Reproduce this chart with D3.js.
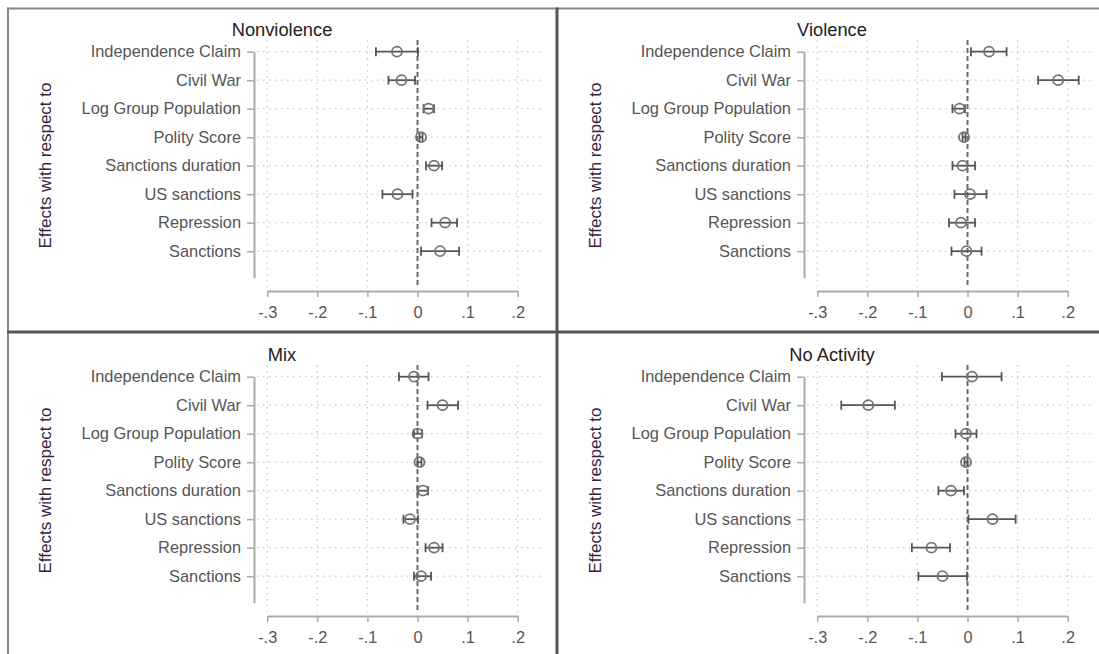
<!DOCTYPE html>
<html>
<head>
<meta charset="utf-8">
<script src="https://cdn.jsdelivr.net/npm/d3@7"></script>
<style>
  html, body { margin: 0; padding: 0; background: #fff; }
  svg { display: block; font-family: "Liberation Sans", Arial, sans-serif; }
</style>
</head>
<body>
<svg id="chart" width="1099" height="654"></svg>
<script>
// Covariates, listed top to bottom
const categories = ["Independence Claim", "Civil War", "Log Group Population", "Polity Score",
                    "Sanctions duration", "US sanctions", "Repression", "Sanctions"];

const panelTitles = ["Nonviolence", "Violence", "Mix", "No Activity"];

// Point estimates and confidence bounds per outcome
const nonviolenceEst = [-0.041, -0.032, 0.022, 0.007, 0.033, -0.040, 0.055, 0.045];
const nonviolenceLo  = [-0.083, -0.058, 0.012, 0.004, 0.017, -0.070, 0.028, 0.007];
const nonviolenceHi  = [ 0.001, -0.005, 0.033, 0.010, 0.049, -0.010, 0.079, 0.083];

const violenceEst = [0.043, 0.181, -0.016, -0.007, -0.010, 0.005, -0.013, -0.002];
const violenceLo  = [0.007, 0.141, -0.030, -0.010, -0.030, -0.026, -0.037, -0.032];
const violenceHi  = [0.078, 0.222, -0.005, -0.004, 0.015, 0.038, 0.015, 0.028];

const mixEst = [-0.007, 0.050, 0.000, 0.004, 0.011, -0.015, 0.033, 0.007];
const mixLo  = [-0.037, 0.020, -0.007, 0.000, 0.000, -0.028, 0.016, -0.007];
const mixHi  = [ 0.022, 0.081, 0.009, 0.008, 0.021, 0.001, 0.050, 0.027];

const noActivityEst = [0.009, -0.198, -0.003, -0.003, -0.033, 0.050, -0.072, -0.050];
const noActivityLo  = [-0.051, -0.252, -0.024, -0.006, -0.058, 0.002, -0.111, -0.098];
const noActivityHi  = [0.068, -0.145, 0.018, 0.000, -0.007, 0.096, -0.035, -0.001];

const xTickValues = [-0.3, -0.2, -0.1, 0, 0.1, 0.2];
const xTickLabels = ["-.3", "-.2", "-.1", "0", ".1", ".2"];

const yTitle = "Effects with respect to";

const panels = [
  { title: panelTitles[0], est: nonviolenceEst, lo: nonviolenceLo, hi: nonviolenceHi, dx: 0,   dy: 0 },
  { title: panelTitles[1], est: violenceEst,    lo: violenceLo,    hi: violenceHi,    dx: 550, dy: 0 },
  { title: panelTitles[2], est: mixEst,         lo: mixLo,         hi: mixHi,         dx: 0,   dy: 325 },
  { title: panelTitles[3], est: noActivityEst,  lo: noActivityLo,  hi: noActivityHi,  dx: 550, dy: 325 }
];

const svg = d3.select("#chart");

const x = d3.scaleLinear().domain([-0.3, 0.2]).range([267.2, 517.7]);
const y = d3.scaleLinear().domain([1, 8.93]).range([51.7, 277.7]);
const rows = d3.range(1, categories.length + 1);

const gridColor = "#c9c9c9";
const axisColor = "#ababab";
const labelColor = "#555";

panels.forEach(p => {
  const g = svg.append("g").attr("transform", `translate(${p.dx},${p.dy})`);

  // vertical dotted grid at the x ticks (0 is drawn as a dashed reference line)
  g.selectAll("line.vgrid")
    .data(xTickValues.filter(v => v !== 0))
    .join("line")
    .attr("x1", d => x(d)).attr("x2", d => x(d))
    .attr("y1", 40).attr("y2", 287)
    .attr("stroke", gridColor).attr("stroke-width", 1.3)
    .attr("stroke-dasharray", "1.5,4.5");

  // horizontal dotted grid at each covariate
  g.selectAll("line.hgrid")
    .data(rows)
    .join("line")
    .attr("x1", 257).attr("x2", 541)
    .attr("y1", d => y(d)).attr("y2", d => y(d))
    .attr("stroke", gridColor).attr("stroke-width", 1.3)
    .attr("stroke-dasharray", "1.5,4.5");

  // zero reference line
  g.append("line")
    .attr("x1", x(0)).attr("x2", x(0))
    .attr("y1", 40).attr("y2", 287)
    .attr("stroke", "#6a6a6a").attr("stroke-width", 2)
    .attr("stroke-dasharray", "5,3");

  // y axis with covariate labels
  const ya = g.append("g")
    .attr("transform", "translate(254,0)")
    .call(d3.axisLeft(y).tickValues(rows)
      .tickFormat(d => categories[d - 1])
      .tickSize(7).tickSizeOuter(0).tickPadding(6));
  ya.select(".domain").attr("stroke", axisColor).attr("stroke-width", 2);
  ya.selectAll(".tick line").attr("stroke", axisColor).attr("stroke-width", 1.5);
  ya.selectAll(".tick text").attr("fill", labelColor).attr("font-size", "16.4px");

  // x axis
  const xa = g.append("g")
    .attr("transform", "translate(0,291)")
    .call(d3.axisBottom(x).tickValues(xTickValues)
      .tickFormat((d, i) => xTickLabels[i])
      .tickSize(6).tickSizeOuter(0).tickPadding(9));
  xa.select(".domain").attr("stroke", axisColor).attr("stroke-width", 2);
  xa.selectAll(".tick line").attr("stroke", axisColor).attr("stroke-width", 1.5);
  xa.selectAll(".tick text").attr("fill", labelColor).attr("font-size", "16.4px");

  // confidence intervals
  const idx = d3.range(categories.length);
  g.selectAll("line.ci")
    .data(idx).join("line")
    .attr("x1", i => x(p.lo[i])).attr("x2", i => x(p.hi[i]))
    .attr("y1", i => y(i + 1)).attr("y2", i => y(i + 1))
    .attr("stroke", "#555").attr("stroke-width", 1.8);
  ["lo", "hi"].forEach(k => {
    g.selectAll("line.cap-" + k)
      .data(idx).join("line")
      .attr("x1", i => x(p[k][i])).attr("x2", i => x(p[k][i]))
      .attr("y1", i => y(i + 1) - 4.5).attr("y2", i => y(i + 1) + 4.5)
      .attr("stroke", "#555").attr("stroke-width", 1.8);
  });

  // point estimates
  g.selectAll("circle.est")
    .data(idx).join("circle")
    .attr("cx", i => x(p.est[i])).attr("cy", i => y(i + 1))
    .attr("r", 5)
    .attr("fill", "none")
    .attr("stroke", "#727272").attr("stroke-width", 1.8);

  // panel title
  g.append("text")
    .attr("x", 282).attr("y", 35.6)
    .attr("text-anchor", "middle")
    .attr("font-size", "18.3px").attr("fill", "#222")
    .text(p.title);

  // y title
  g.append("text")
    .attr("transform", "translate(51,165.5) rotate(-90)")
    .attr("text-anchor", "middle")
    .attr("font-size", "17px").attr("fill", "#35243f")
    .text(yTitle);
});

// frame and panel dividers
svg.append("line").attr("x1", 7).attr("x2", 1099).attr("y1", 8.5).attr("y2", 8.5)
  .attr("stroke", "#8a8a8a").attr("stroke-width", 2);
svg.append("line").attr("x1", 8).attr("x2", 8).attr("y1", 7.5).attr("y2", 654)
  .attr("stroke", "#8a8a8a").attr("stroke-width", 2);
svg.append("line").attr("x1", 557).attr("x2", 557).attr("y1", 7.5).attr("y2", 654)
  .attr("stroke", "#555").attr("stroke-width", 3);
svg.append("line").attr("x1", 7).attr("x2", 1099).attr("y1", 332).attr("y2", 332)
  .attr("stroke", "#555").attr("stroke-width", 3);
</script>
</body>
</html>
